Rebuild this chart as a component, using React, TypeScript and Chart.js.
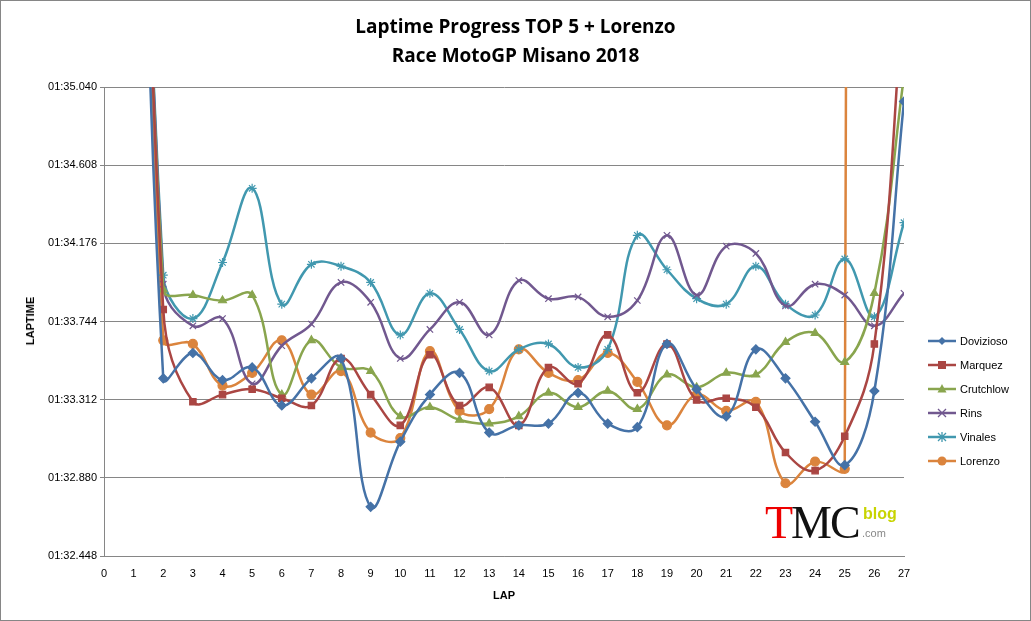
import React, { useEffect, useRef } from "react";
import { Chart, registerables } from "chart.js";
Chart.register(...registerables);

const laps = [1, 2, 3, 4, 5, 6, 7, 8, 9, 10, 11, 12, 13, 14, 15, 16, 17, 18, 19, 20, 21, 22, 23, 24, 25, 26, 27];
// lap times in seconds (95.040 = 01:35.040)
const dovizioso = [99.5, 93.43, 93.57, 93.42, 93.49, 93.28, 93.43, 93.54, 92.72, 93.08, 93.34, 93.46, 93.13, 93.17, 93.18, 93.35, 93.18, 93.16, 93.62, 93.37, 93.22, 93.59, 93.43, 93.19, 92.95, 93.36, 94.96];
const marquez = [99.5, 93.81, 93.30, 93.34, 93.37, 93.32, 93.28, 93.54, 93.34, 93.17, 93.56, 93.28, 93.38, 93.17, 93.49, 93.40, 93.67, 93.35, 93.62, 93.31, 93.32, 93.27, 93.02, 92.92, 93.11, 93.62, 95.6];
const crutchlow = [99.5, 93.92, 93.89, 93.86, 93.89, 93.34, 93.64, 93.49, 93.47, 93.22, 93.27, 93.20, 93.18, 93.22, 93.35, 93.27, 93.36, 93.26, 93.45, 93.38, 93.46, 93.45, 93.63, 93.68, 93.52, 93.90, 95.1];
const rins = [99.5, 93.95, 93.72, 93.76, 93.40, 93.61, 93.73, 93.96, 93.85, 93.54, 93.70, 93.85, 93.67, 93.97, 93.87, 93.88, 93.77, 93.86, 94.22, 93.89, 94.16, 94.12, 93.83, 93.95, 93.89, 93.72, 93.90];
const vinales = [99.5, 94.00, 93.76, 94.07, 94.48, 93.84, 94.06, 94.05, 93.96, 93.67, 93.90, 93.70, 93.47, 93.59, 93.62, 93.49, 93.59, 94.22, 94.03, 93.87, 93.84, 94.05, 93.84, 93.78, 94.09, 93.77, 94.29];
const lorenzo = [99.5, 93.64, 93.62, 93.39, 93.46, 93.64, 93.34, 93.47, 93.13, 93.10, 93.58, 93.25, 93.26, 93.59, 93.46, 93.42, 93.57, 93.41, 93.17, 93.34, 93.25, 93.30, 92.85, 92.97, 92.93, 160, NaN];

const names = ["Dovizioso", "Marquez", "Crutchlow", "Rins", "Vinales", "Lorenzo"];
const colors = ["#4572A7", "#AA4643", "#89A54E", "#71588F", "#4198AF", "#DB843D"];
const styles = ["rectRot", "rect", "triangle", "crossRot", "star", "circle"];
const series = [dovizioso, marquez, crutchlow, rins, vinales, lorenzo];

const fmt = (v: number) => {
  const m = Math.floor(v / 60);
  const s = v - m * 60;
  return String(m).padStart(2, "0") + ":" + s.toFixed(3).padStart(6, "0");
};

function Marker({ i }: { i: number }) {
  const c = colors[i];
  const st = styles[i];
  let m: any = null;
  if (st === "rectRot") m = <polygon points="14,2 18,6 14,10 10,6" fill={c} />;
  else if (st === "rect") m = <rect x="10" y="2" width="8" height="8" fill={c} />;
  else if (st === "triangle") m = <polygon points="14,1 18.5,9.5 9.5,9.5" fill={c} />;
  else if (st === "crossRot") m = <path d="M10,2 L18,10 M18,2 L10,10" stroke={c} strokeWidth="1.3" />;
  else if (st === "star") m = <path d="M10,2 L18,10 M18,2 L10,10 M14,1 L14,11" stroke={c} strokeWidth="1.3" />;
  else m = <circle cx="14" cy="6" r="4.5" fill={c} />;
  return (
    <svg width="28" height="12" style={{ marginRight: 4 }}>
      <line x1="0" y1="6" x2="28" y2="6" stroke={c} strokeWidth="2.5" />
      {m}
    </svg>
  );
}

export default function App() {
  const ref = useRef<HTMLCanvasElement>(null);
  useEffect(() => {
    const chart = new Chart(ref.current!, {
      type: "line",
      data: {
        datasets: series.map((d, i) => ({
          label: names[i],
          data: laps.map((l, k) => ({ x: l, y: d[k] })).filter((p) => !isNaN(p.y)),
          borderColor: colors[i],
          backgroundColor: colors[i],
          borderWidth: 2.5,
          pointStyle: styles[i] as any,
          pointRadius: 4.5,
          pointBorderWidth: 1.2,
          tension: 0.4,
        })),
      },
      options: {
        animation: false,
        responsive: false,
        layout: { padding: { top: 87, right: 127, left: 0, bottom: 0 } },
        plugins: { legend: { display: false }, title: { display: false }, tooltip: { enabled: false } },
        scales: {
          x: {
            type: "linear",
            min: 0,
            max: 27,
            ticks: { stepSize: 1, color: "#000", font: { family: "Liberation Sans", size: 11 } },
            grid: { display: false },
            border: { color: "#868686" },
            afterFit: (s: any) => { s.height = 65; },
          },
          y: {
            min: 92.448,
            max: 95.04,
            afterBuildTicks: (s: any) => {
              const t = [];
              for (let k = 0; k <= 6; k++) t.push({ value: 92.448 + k * 0.432 });
              s.ticks = t;
            },
            ticks: { color: "#000", font: { family: "Liberation Sans", size: 11 }, callback: (v: any) => fmt(Number(v)) },
            grid: { color: "#868686", drawTicks: true, tickLength: 4 },
            border: { color: "#868686" },
            afterFit: (s: any) => { s.width = 104; },
          },
        },
      },
    });
    return () => chart.destroy();
  }, []);
  return (
    <div style={{ position: "absolute", left: 0, top: 0, width: 1031, height: 621, background: "#fff", fontFamily: "Liberation Sans" }}>
      <div style={{ position: "absolute", left: 0, top: 0, width: 1029, height: 619, border: "1px solid #868686" }} />
      <canvas ref={ref} width={1031} height={621} style={{ position: "absolute", left: 0, top: 0 }} />
      <div style={{ position: "absolute", left: 0, width: 1031, top: 12, textAlign: "center", fontFamily: "Open Sans", fontWeight: "bold", fontSize: 19, lineHeight: "29px", color: "#000" }}>
        Laptime Progress TOP 5 + Lorenzo<br />Race MotoGP Misano 2018
      </div>
      <div style={{ position: "absolute", left: 30, top: 321, transform: "translate(-50%,-50%) rotate(-90deg)", fontSize: 11, fontWeight: "bold", whiteSpace: "nowrap" }}>LAPTIME</div>
      <div style={{ position: "absolute", left: 504, top: 595, transform: "translate(-50%,-50%)", fontSize: 11, fontWeight: "bold" }}>LAP</div>
      <div style={{ position: "absolute", left: 928, top: 329, fontSize: 11 }}>
        {names.map((n, i) => (
          <div key={n} style={{ display: "flex", alignItems: "center", height: 24 }}>
            <Marker i={i} />
            <span>{n}</span>
          </div>
        ))}
      </div>
      <div style={{ position: "absolute", left: 765, top: 498, fontFamily: "Liberation Serif", fontSize: 46, lineHeight: "50px", letterSpacing: -2 }}>
        <span style={{ color: "#e00" }}>T</span><span style={{ color: "#111" }}>MC</span>
      </div>
      <div style={{ position: "absolute", left: 863, top: 505, fontFamily: "Liberation Sans", fontWeight: "bold", fontSize: 16, color: "#c8d400" }}>blog</div>
      <div style={{ position: "absolute", left: 862, top: 527, fontFamily: "Liberation Sans", fontSize: 11, color: "#888" }}>.com</div>
    </div>
  );
}
